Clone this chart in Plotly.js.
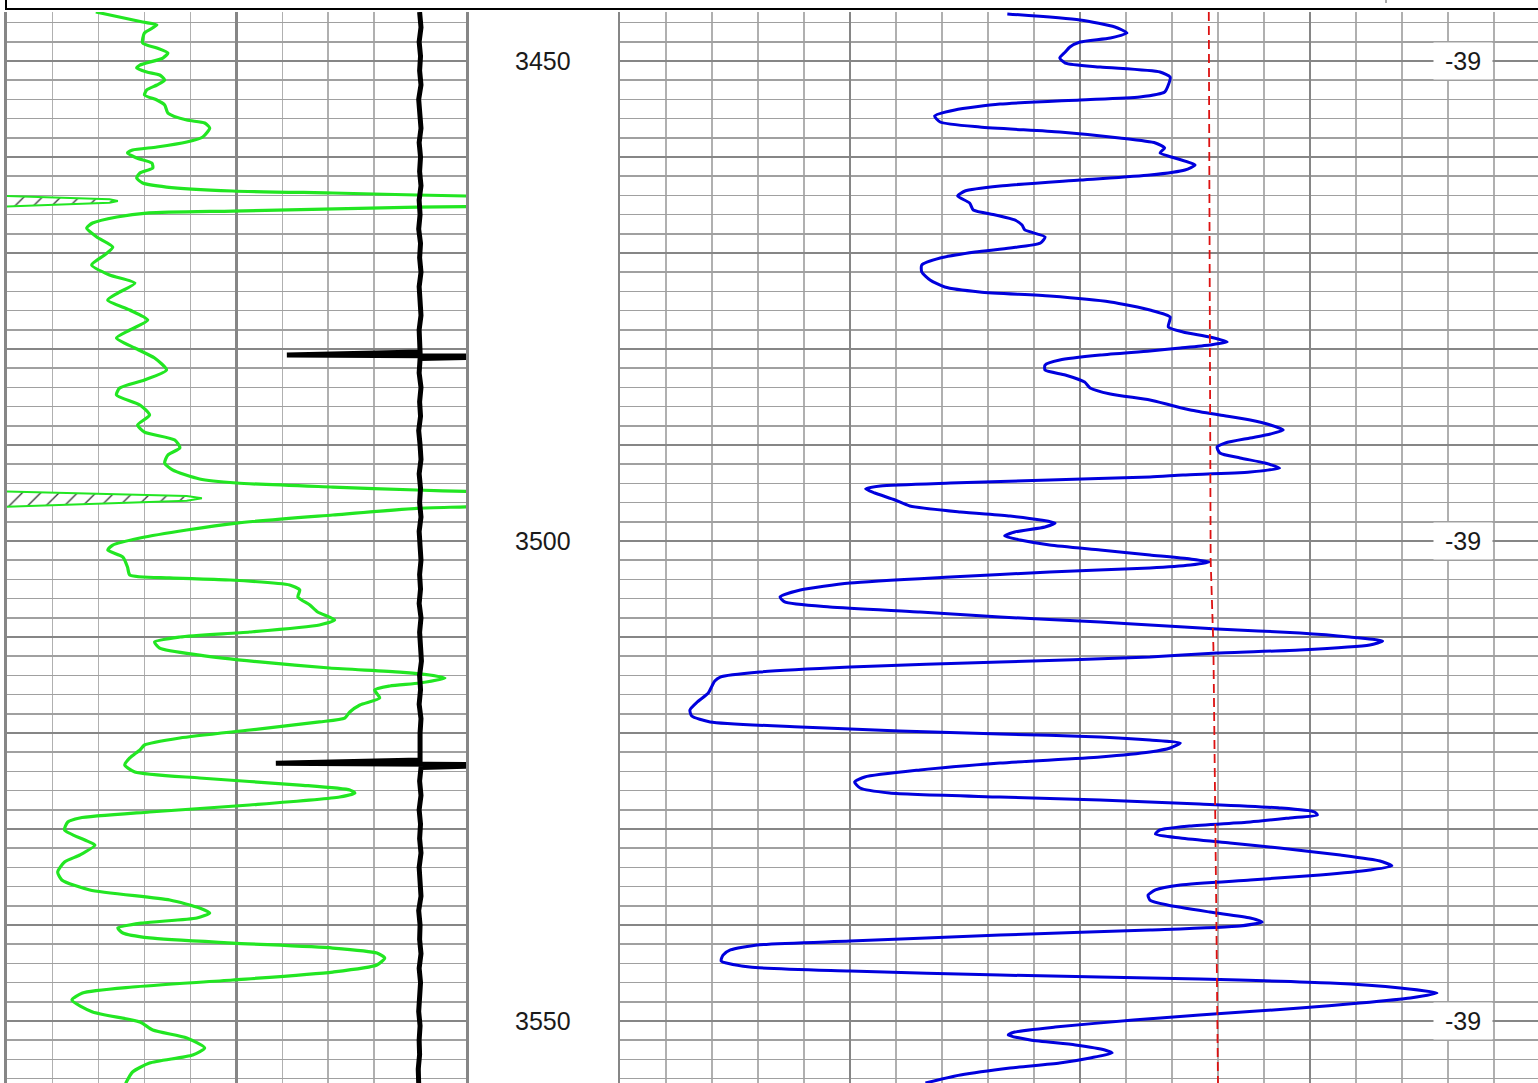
<!DOCTYPE html>
<html>
<head>
<meta charset="utf-8">
<script src="https://cdn.plot.ly/plotly-3.0.1.min.js"></script>
<style>html,body{margin:0;padding:0;background:#fff;}#chart{width:1538px;height:1083px;}</style>
</head>
<body>
<div id="chart"></div>
<script>
// ---- Left track: green curve (values wrap past 100 onto the left side) ----
const greenDepth = [3444.9,3445.94,3446.25,3447.08,3448.13,3448.65,3449.17,3449.69,3450.42,3450.73,3451.15,3451.46,3451.98,3452.50,3453.02,3453.54,3454.06,3454.58,3455.42,3456.15,3456.46,3456.98,3457.92,3458.44,3458.96,3459.27,3459.58,3460.10,3460.63,3461.15,3461.67,3462.19,3462.71,3463.13,3463.54,3463.75,3463.96,3464.06,3464.40,3464.58,3464.77,3465.16,3465.23,3465.63,3465.83,3466.25,3466.88,3467.40,3468.33,3469.38,3470.21,3471.25,3472.29,3473.13,3474.17,3474.90,3475.94,3476.98,3478.02,3478.85,3479.90,3480.94,3482.19,3483.23,3484.06,3484.79,3485.83,3486.88,3487.92,3488.65,3489.48,3490.31,3491.04,3491.88,3492.60,3493.54,3493.96,3494.38,3494.69,3494.84,3495.31,3495.55,3495.80,3496.44,3496.60,3497.29,3498.13,3498.85,3499.69,3500.42,3500.94,3501.67,3502.71,3503.54,3503.85,3504.06,3504.58,3505.10,3505.83,3506.67,3507.40,3508.23,3508.75,3509.48,3510.00,3510.52,3511.15,3511.88,3512.60,3513.23,3513.65,3513.96,3514.27,3514.79,3515.10,3515.52,3516.35,3517.08,3517.81,3518.44,3518.85,3519.69,3520.52,3521.25,3521.77,3522.60,3523.33,3524.06,3524.69,3525.42,3525.94,3526.25,3526.67,3527.50,3528.23,3528.85,3529.27,3530.10,3531.15,3531.67,3532.71,3533.44,3534.48,3535.31,3536.35,3537.40,3538.23,3538.75,3539.27,3539.79,3540.31,3540.83,3541.35,3541.88,3542.40,3542.92,3543.44,3544.17,3544.90,3545.73,3546.46,3547.08,3547.81,3549.06,3550.10,3550.94,3551.77,3552.81,3553.54,3554.38,3555.31,3556.50];
const greenValue = [19.4,29.6,32.7,30.0,29.6,32.7,35.1,34.0,29.0,28.3,30.5,33.3,34.4,32.7,30.5,30.0,32.7,34.4,35.1,39.2,43.1,44.2,42.7,39.2,32.7,27.4,26.3,28.3,31.6,31.8,29.0,28.3,29.6,34.8,49.2,71.0,89.3,100,122.4,124.2,122.4,100,89.3,49.2,31.0,24.0,18.7,17.4,19.6,23.1,21.3,18.5,22.4,27.9,24.2,22.0,26.8,30.7,26.8,23.9,27.9,32.2,34.8,30.0,24.6,23.9,29.0,31.1,28.5,30.0,36.6,37.7,35.1,34.4,36.1,42.0,50.1,71.0,89.3,100,139.2,142.5,139.2,100,89.3,71.0,50.1,39.2,29.0,23.1,22.0,25.3,26.3,26.8,35.5,48.6,61.6,63.8,63.4,66.0,67.7,71.4,68.1,52.9,37.7,32.2,33.3,42.0,55.1,70.3,85.6,92.1,95.4,89.9,83.4,80.1,81.2,76.9,74.7,73.6,68.1,52.9,37.7,30.0,29.0,26.8,25.7,27.9,42.0,63.8,74.7,75.8,72.5,52.9,31.1,15.9,13.3,12.6,17.0,19.2,15.9,12.6,11.1,12.0,18.1,35.5,42.0,44.2,41.4,29.6,24.2,25.3,31.1,49.2,71.0,80.6,82.3,80.6,71.0,49.2,27.4,16.5,14.2,18.7,29.0,31.8,39.2,43.1,40.5,31.1,27.4,25.9];

// ---- Left track: black curve ----
const blackDepth = [3444.9,3446.5,3448,3449.5,3451,3452.5,3454,3455.5,3457,3458.5,3460,3461.5,3463,3464.5,3466,3467.5,3469,3470.5,3472,3473.5,3475,3476.5,3478,3480.3,3480.62,3480.75,3481.0,3482.5,3484,3485.5,3487,3488.5,3490,3491.5,3493,3494.5,3496,3497.5,3499,3500.5,3502,3503.5,3505,3506.5,3508,3509.5,3511,3512.5,3514,3515.5,3517,3518.5,3520,3522.8,3523.15,3523.3,3523.6,3525,3526.5,3528,3529.5,3531,3532.5,3534,3535.5,3537,3538.5,3540,3541.5,3543,3544.5,3546,3547.5,3549,3550.5,3552,3553.5,3555,3556.5];
const blackValue = [89.9,90.2,89.8,90.1,89.9,90.2,89.7,90.0,90.2,89.8,90.1,89.9,90.2,89.8,90.0,89.7,90.1,89.9,90.2,89.8,90.0,90.2,89.8,90.0,61.0,110,90.0,89.8,90.2,89.9,90.1,89.7,90.0,90.2,89.8,90.1,89.9,90.2,89.8,90.0,90.2,89.9,90.1,89.8,90.2,89.9,90.0,90.3,89.9,90.1,89.8,90.2,90.0,90.0,58.6,110,90.2,89.9,90.2,89.8,90.1,89.9,90.2,89.8,90.0,90.2,89.7,90.0,89.9,90.2,89.8,90.1,89.9,89.7,90.0,89.8,89.9,89.6,89.7];

// ---- Right track: blue curve ----
const blueDepth = [3445.10,3445.73,3446.46,3447.08,3447.60,3448.02,3448.54,3449.06,3449.69,3450.21,3450.63,3451.15,3451.67,3452.50,3453.23,3453.75,3454.06,3454.48,3455.10,3455.73,3456.35,3456.88,3457.40,3458.02,3458.54,3459.06,3459.58,3460.10,3460.83,3461.35,3461.88,3462.40,3463.02,3463.54,3464.06,3464.79,3465.52,3466.04,3466.56,3467.08,3467.60,3468.33,3468.96,3469.48,3469.90,3470.52,3471.25,3471.98,3472.81,3473.54,3474.06,3474.48,3475.10,3475.94,3476.67,3477.71,3478.23,3478.75,3479.27,3479.58,3479.90,3480.21,3480.63,3481.15,3481.67,3482.19,3482.71,3483.44,3484.06,3484.69,3485.31,3485.83,3486.35,3486.88,3487.40,3487.92,3488.44,3488.85,3489.27,3489.79,3490.21,3490.83,3491.35,3491.88,3492.40,3492.81,3493.13,3493.33,3493.65,3493.96,3494.27,3494.58,3495.00,3495.73,3496.35,3496.98,3497.40,3497.81,3498.13,3498.54,3499.06,3499.48,3499.90,3500.42,3500.94,3501.46,3501.88,3502.19,3502.50,3502.81,3503.23,3503.75,3504.38,3505.10,3505.83,3506.35,3506.88,3507.40,3507.92,3508.44,3508.75,3509.17,3509.58,3510.00,3510.42,3510.83,3511.35,3511.67,3512.08,3512.60,3513.13,3513.65,3514.17,3514.58,3515.10,3515.83,3516.77,3517.60,3518.23,3518.85,3519.38,3519.79,3520.10,3520.42,3520.73,3521.04,3521.56,3521.98,3522.50,3523.13,3523.85,3524.58,3525.10,3525.73,3526.25,3526.67,3526.98,3527.40,3527.81,3528.23,3528.54,3528.85,3529.27,3529.69,3530.10,3530.52,3530.94,3531.46,3531.98,3532.71,3533.33,3533.85,3534.27,3534.79,3535.31,3535.83,3536.35,3536.88,3537.40,3537.92,3538.65,3539.27,3539.69,3540.10,3540.52,3541.04,3541.67,3542.08,3542.60,3543.13,3543.75,3544.38,3544.79,3545.21,3545.63,3546.04,3546.56,3547.08,3547.60,3548.13,3548.65,3549.38,3549.90,3550.63,3551.15,3551.46,3551.98,3552.50,3553.02,3553.33,3553.85,3554.38,3554.90,3555.63,3556.46];
const blueValue = [42.1,50.0,53.8,55.1,53.3,50.0,48.9,48.4,47.8,48.4,52.2,58.7,59.8,59.6,59.2,56.5,50.0,41.3,36.4,34.2,34.8,39.1,47.8,54.3,58.2,59.2,58.7,60.3,62.5,61.4,57.6,50.0,41.3,37.5,36.7,38.0,38.4,40.8,42.9,43.7,44.0,46.2,45.7,42.4,38.6,34.8,32.8,32.8,33.7,35.3,39.1,46.7,53.3,57.6,59.8,59.6,61.2,64.1,66.0,64.1,60.9,57.6,52.2,47.8,46.2,46.2,48.4,50.5,51.1,53.3,57.6,59.8,62.0,65.2,68.5,70.7,72.1,70.7,68.5,65.8,64.9,65.2,67.4,70.1,71.7,68.5,61.2,57.6,46.7,35.9,28.3,26.7,27.7,29.9,31.5,37.0,42.4,45.7,47.3,46.2,42.9,41.8,43.5,46.7,52.2,57.6,62.0,64.1,62.0,57.6,46.7,35.9,25.0,19.6,17.4,17.9,22.8,32.6,41.3,52.2,57.6,64.9,73.9,79.3,82.9,81.5,73.9,64.9,57.6,41.3,25.0,15.2,10.9,10.3,10.0,9.6,8.4,7.6,7.8,9.8,19.6,30.4,41.3,52.2,57.6,60.9,59.8,57.6,52.2,41.3,32.6,26.6,25.5,26.1,29.3,41.3,52.2,63.0,71.7,75.5,75.8,72.8,68.5,61.9,58.7,58.2,60.9,66.3,71.7,78.3,82.6,83.9,81.5,76.1,68.5,60.9,58.2,57.4,57.6,59.5,64.1,68.5,69.8,67.4,57.6,41.3,25.0,14.9,12.0,11.2,11.0,14.1,25.0,41.3,63.0,77.2,84.8,88.8,85.9,80.4,73.9,63.0,55.8,47.3,42.9,42.2,44.6,49.5,52.7,53.5,51.1,47.8,42.4,37.0,33.2];

// ---- Right track: red dashed reference line ----
const redDepth = [3444.9,3475,3490.5,3502,3511,3525,3537.4,3556.5];
const redValue = [64.0,64.1,64.1,64.2,64.5,64.7,64.8,65.0];

// ---- Labels ----
const depthTicks = [3450,3500,3550];
const rightTickText = ['-39','-39','-39'];

const WRAP = 100;
function wrapRuns(d, v, lim){
  const runs=[]; let cur=null;
  for(let i=0;i<d.length;i++){
    if(v[i]>=lim){ if(!cur) cur={x:[],y:[]}; cur.x.push(v[i]-lim); cur.y.push(d[i]); }
    else if(cur){ runs.push(cur); cur=null; }
  }
  if(cur) runs.push(cur);
  return runs;
}

const GREEN='#22e622';
const traces=[];
wrapRuns(greenDepth, greenValue, WRAP).forEach(r=>{
  traces.push({x:r.x,y:r.y,xaxis:'x',yaxis:'y',mode:'lines',fill:'toself',
    fillcolor:'rgba(255,255,255,0)',
    fillpattern:{shape:'/',fgcolor:'#333333',bgcolor:'#ffffff',size:13,solidity:0.1},
    line:{color:GREEN,width:2},hoverinfo:'skip'});
});
traces.push({x:greenValue,y:greenDepth,xaxis:'x',yaxis:'y',mode:'lines',line:{color:GREEN,width:3.2,shape:'spline',smoothing:0.6},hoverinfo:'skip'});
traces.push({x:blackValue,y:blackDepth,xaxis:'x',yaxis:'y',mode:'lines',line:{color:'#000000',width:5},hoverinfo:'skip'});
traces.push({x:blueValue,y:blueDepth,xaxis:'x2',yaxis:'y',mode:'lines',line:{color:'#0000dd',width:3,shape:'spline',smoothing:0.6},hoverinfo:'skip'});
traces.push({x:redValue,y:redDepth,xaxis:'x2',yaxis:'y',mode:'lines',line:{color:'#dd1111',width:1.8,dash:'9px,5px'},hoverinfo:'skip'});

const font={family:'Liberation Sans, Arial, sans-serif',size:25,color:'#1a1a1a'};
const annotations=[];
depthTicks.forEach((d,i)=>{
  annotations.push({xref:'paper',yref:'y',x:543/1538,y:d,text:String(d),showarrow:false,font:font,xanchor:'center',yanchor:'middle'});
  annotations.push({xref:'x2',yref:'y',x:91.6,y:d,text:rightTickText[i],showarrow:false,font:font,bgcolor:'#ffffff',width:56,height:34,xanchor:'center',yanchor:'middle'});
});

const plotH=1083-12;
const layout={
  width:1538,height:1083,margin:{l:0,r:0,t:12,b:0,pad:0},
  paper_bgcolor:'#ffffff',plot_bgcolor:'#ffffff',showlegend:false,
  xaxis:{domain:[6.7/1538,466/1538],range:[0,100],anchor:'y',showticklabels:false,ticks:'',
    tick0:0,dtick:50,showgrid:true,gridcolor:'#868686',gridwidth:2.5,zeroline:false,
    minor:{tick0:0,dtick:10,showgrid:true,gridcolor:'#b0b0b0',gridwidth:1.5}},
  xaxis2:{domain:[620/1538,1],range:[0,(1538-620)/9.2],anchor:'y',showticklabels:false,ticks:'',
    tick0:0,dtick:25,showgrid:true,gridcolor:'#868686',gridwidth:2.5,zeroline:false,
    minor:{tick0:0,dtick:5,showgrid:true,gridcolor:'#b0b0b0',gridwidth:1.5}},
  yaxis:{range:[3450+(1083-61)/9.6,3450-(61-12)/9.6],anchor:'x',showticklabels:false,ticks:'',
    tick0:3450,dtick:10,showgrid:true,gridcolor:'#868686',gridwidth:2.5,zeroline:false,
    showline:true,mirror:'all',linecolor:'#868686',linewidth:2.5,
    minor:{tick0:3450,dtick:2,showgrid:true,gridcolor:'#a0a0a0',gridwidth:1.5}},
  annotations:annotations,
  shapes:[
    {type:'rect',xref:'paper',yref:'paper',x0:6/1538,x1:1.05,y0:1+3/plotH,y1:1.05,line:{color:'#000000',width:2},fillcolor:'rgba(0,0,0,0)'},
    {type:'line',xref:'paper',yref:'paper',x0:1386/1538,x1:1386/1538,y0:1+9/plotH,y1:1+12/plotH,line:{color:'#555555',width:1}}
  ]
};
Plotly.newPlot('chart',traces,layout,{displayModeBar:false,staticPlot:true});
</script>
</body>
</html>
